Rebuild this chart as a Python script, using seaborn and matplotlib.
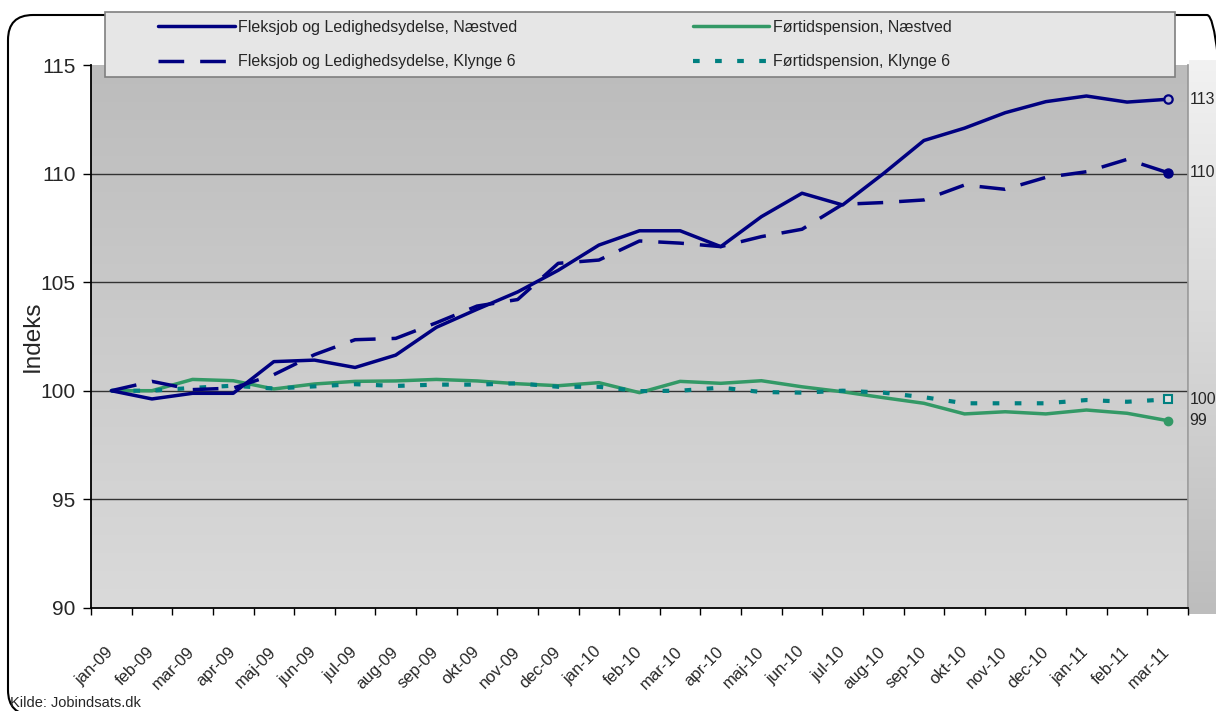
import numpy as np
import pandas as pd
import matplotlib
matplotlib.use("Agg")
import matplotlib.pyplot as plt
import seaborn as sns
from matplotlib.colors import LinearSegmentedColormap
from matplotlib.patches import FancyBboxPatch, Rectangle
from matplotlib.lines import Line2D

# data
months = ["jan-09", "feb-09", "mar-09", "apr-09", "maj-09", "jun-09", "jul-09",
          "aug-09", "sep-09", "okt-09", "nov-09", "dec-09", "jan-10", "feb-10",
          "mar-10", "apr-10", "maj-10", "jun-10", "jul-10", "aug-10", "sep-10",
          "okt-10", "nov-10", "dec-10", "jan-11", "feb-11", "mar-11"]

flex_naestved = [100, 99.62, 99.88, 99.88, 101.34, 101.41, 101.07, 101.64, 102.92,
                 103.75, 104.55, 105.55, 106.71, 107.37, 107.37, 106.64, 108.02,
                 109.10, 108.56, 110.00, 111.53, 112.10, 112.81, 113.32, 113.58,
                 113.30, 113.43]
flex_klynge = [100, 100.43, 100.05, 100.12, 100.74, 101.66, 102.35, 102.41, 103.13,
               103.90, 104.20, 105.87, 106.02, 106.90, 106.80, 106.64, 107.10,
               107.44, 108.59, 108.67, 108.79, 109.48, 109.28, 109.83, 110.09,
               110.66, 110.05]
fp_naestved = [100, 100.00, 100.52, 100.46, 100.08, 100.31, 100.43, 100.45, 100.52,
               100.45, 100.32, 100.23, 100.37, 99.91, 100.43, 100.34, 100.46,
               100.18, 99.95, 99.68, 99.42, 98.93, 99.03, 98.93, 99.11, 98.96, 98.62]
fp_klynge = [100, 100.00, 100.13, 100.23, 100.10, 100.20, 100.30, 100.22, 100.28,
             100.28, 100.34, 100.18, 100.18, 99.98, 100.00, 100.14, 99.94, 99.91,
             100.00, 99.91, 99.70, 99.42, 99.42, 99.42, 99.57, 99.49, 99.60]

labels = ["Fleksjob og Ledighedsydelse, Næstved",
          "Fleksjob og Ledighedsydelse, Klynge 6",
          "Førtidspension, Næstved",
          "Førtidspension, Klynge 6"]

sns.set_theme(style="white")
plt.rcParams['font.family'] = ['Liberation Sans', 'DejaVu Sans']

W, H = 1216, 711
fig = plt.figure(figsize=(W / 100, H / 100), dpi=100)
fig.patch.set_facecolor("white")

def fx(px):
    return px / W

def fy(py):
    return 1 - py / H

# outer rounded border (right and bottom edges fall off the canvas)
border = FancyBboxPatch((8 / 100, -4 / 100), (1232 - 8) / 100, (H - 15 + 4) / 100,
                        boxstyle="round,pad=0,rounding_size=0.25",
                        transform=fig.dpi_scale_trans, facecolor="none",
                        edgecolor="black", linewidth=1.5, zorder=0)
fig.patches.append(border)

# grey side wall right of plot
wall = fig.add_axes([fx(1189), fy(614), fx(1216 - 1189), (614 - 60) / H])
wall.imshow(np.linspace(0, 1, 256).reshape(-1, 1), aspect="auto", origin="lower",
            cmap=LinearSegmentedColormap.from_list("w", ["#bdbdbd", "#f2f2f2"]))
wall.axis("off")

x0, x1, ytop, ybot = 91, 1188, 65.2, 607.7
ax = fig.add_axes([fx(x0), fy(ybot), fx(x1 - x0), (ybot - ytop) / H])

grad = np.linspace(0, 1, 256).reshape(-1, 1)
ax.imshow(grad, extent=[-0.5, 26.5, 90, 115], aspect="auto", origin="lower",
          cmap=LinearSegmentedColormap.from_list("g", ["#dadada", "#bcbcbc"]), zorder=0)

for yv in [95, 100, 105, 110]:
    ax.axhline(yv, color="#333333", lw=1.0, zorder=1)

pos = np.arange(len(months))
df = pd.DataFrame({
    "pos": np.tile(pos, 4),
    "value": flex_naestved + flex_klynge + fp_naestved + fp_klynge,
    "serie": np.repeat(labels, len(months)),
})

styles = {
    labels[2]: dict(color="#339966", lw=2.5, dashes=None),
    labels[3]: dict(color="#008080", lw=3.0, dashes=(1.6, 3.7)),
    labels[1]: dict(color="#000080", lw=2.5, dashes=(7.4, 4.6)),
    labels[0]: dict(color="#000080", lw=2.5, dashes=None),
}
handles = {}
for name, st in styles.items():
    sub = df[df["serie"] == name]
    sns.lineplot(data=sub, x="pos", y="value", ax=ax, color=st["color"],
                 linewidth=st["lw"], sort=False, zorder=3)
    line = ax.lines[-1]
    if st["dashes"]:
        line.set_dashes(st["dashes"])
        line.set_dash_capstyle("butt")
    handles[name] = Line2D([], [], color=st["color"], lw=st["lw"],
                           dashes=st["dashes"] if st["dashes"] else (None, None),
                           dash_capstyle="butt")

# end markers and labels
last = len(months) - 1
ax.plot(last, flex_naestved[-1], marker="o", ms=6, mfc="#b8b8d0", mec="#000080", mew=1.6, zorder=4)
ax.plot(last, flex_klynge[-1], marker="o", ms=6.5, color="#000080", zorder=4)
ax.plot(last, fp_klynge[-1], marker="s", ms=6, mfc="#e0e0e0", mec="#008080", mew=1.5, zorder=4)
ax.plot(last, fp_naestved[-1], marker="o", ms=6, color="#339966", zorder=4)
ytr = ax.get_yaxis_transform()
for v in [flex_naestved[-1], flex_klynge[-1], fp_klynge[-1], fp_naestved[-1]]:
    ax.text(1.0015, v, f"{round(v):.0f}", transform=ytr, ha="left", va="center",
            fontsize=11.5, clip_on=False)

ax.set_xlim(-0.5, 26.5)
ax.set_ylim(90, 115)
ax.set_yticks(range(90, 116, 5))
ax.tick_params(axis="y", labelsize=15, length=6, width=1, color="black", direction="out", left=True, pad=5)
ax.set_xticks(pos)
ax.set_xticklabels(months, rotation=45, ha="right", va="center", rotation_mode="anchor", fontsize=12)
ax.set_xticks(np.arange(-0.5, 27, 1), minor=True)
ax.tick_params(axis="x", which="major", length=0, pad=30)
ax.tick_params(axis="x", which="minor", length=5, width=1, color="black", direction="out", bottom=True)
ax.set_xlabel("")
ax.set_ylabel("Indeks", fontsize=17.5, labelpad=-2)
ax.spines["top"].set_visible(False)
ax.spines["right"].set_color("#999999")
ax.spines["left"].set_color("black")
ax.spines["bottom"].set_color("black")
ax.spines["left"].set_linewidth(1.3)
ax.spines["bottom"].set_linewidth(1.3)

# legend box
fig.patches.append(Rectangle((fx(105), fy(77)), fx(1175 - 105), (77 - 12) / H,
                             transform=fig.transFigure, facecolor="#e6e6e6",
                             edgecolor="#7f7f7f", lw=1.2, zorder=5))
leg = fig.legend([handles[l] for l in labels], labels, ncol=2, loc="upper left",
                 bbox_to_anchor=(fx(158), fy(20)), frameon=False, fontsize=11.5,
                 handlelength=4.8, handletextpad=0.2, columnspacing=11.0,
                 labelspacing=1.2, borderpad=0, borderaxespad=0)
leg.set_zorder(6)

fig.text(fx(10), fy(703), "Kilde: Jobindsats.dk", fontsize=10.5, va="center", ha="left")

fig.savefig("out.png", dpi=100)
